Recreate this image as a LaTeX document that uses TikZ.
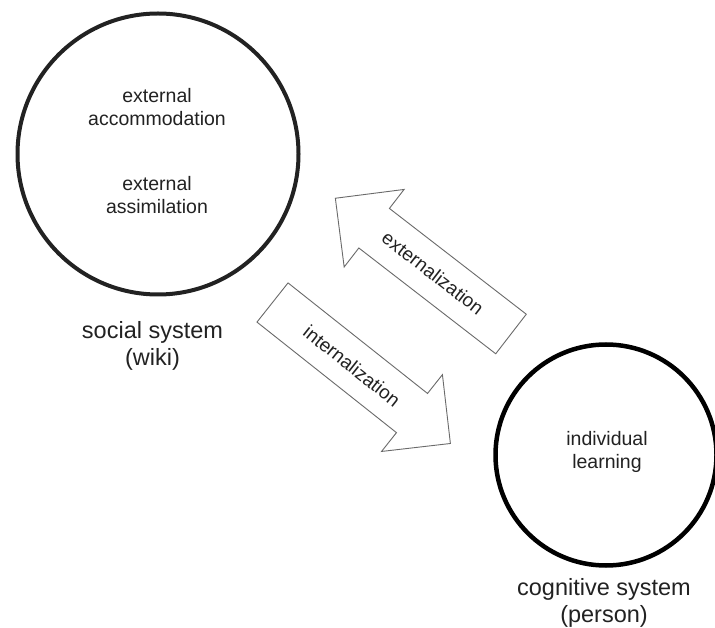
\documentclass[tikz,border=0pt]{standalone}
\usepackage{fontspec}
\setmainfont{Liberation Sans}
\definecolor{ink}{HTML}{222222}
\definecolor{arrowline}{HTML}{6A6A6A}
\tikzset{
  ring/.style={circle, draw=ink, inner sep=0pt},
  innertext/.style={align=center, text=ink, font=\fontsize{19.5}{23.5}\selectfont},
  labeltext/.style={align=center, text=ink, font=\fontsize{23.5}{27}\selectfont},
  blockarrow/.style={draw=arrowline, line width=0.9pt, fill=white, line join=miter},
  arrowtext/.style={text=ink, font=\fontsize{19}{22}\selectfont, inner sep=0pt}
}
\begin{document}
\begin{tikzpicture}[x=1pt, y=-1pt]
\useasboundingbox[fill=white] (0,0) rectangle (715,628);

% social system circle
\node[ring, line width=4pt, minimum size=281pt] (social) at (158,154) {};
\node[innertext] (accom) at (157,107) {external\\accommodation};
\node[innertext] (assim) at (157,195) {external\\assimilation};
\node[labeltext] (sociallabel) at (152.5,346) {social system\\(wiki)};

% cognitive system circle
\node[ring, draw=black, line width=4.5pt, minimum size=221pt] (cognitive) at (606,455) {};
\node[innertext] (learning) at (607,452) {individual\\learning};
\node[labeltext] (coglabel) at (604,603) {cognitive system\\(person)};

% internalization arrow (down-right)
\begin{scope}[shift={(272.5,302.5)}, rotate=-38.4]
  \draw[blockarrow] (0,-25) -- (178,-25) -- (178,-49) -- (227,0) -- (178,49) -- (178,25) -- (0,25) -- cycle;
\end{scope}
\node[arrowtext, rotate=-38.4] (intern) at (352,366) {internalization};

% externalization arrow (up-left)
\begin{scope}[shift={(511,334)}, rotate=142.3]
  \draw[blockarrow] (0,-25) -- (173,-25) -- (173,-49) -- (222,0) -- (173,49) -- (173,25) -- (0,25) -- cycle;
\end{scope}
\node[arrowtext, rotate=-37.7] (extern) at (433,273) {externalization};
\end{tikzpicture}
\end{document}
